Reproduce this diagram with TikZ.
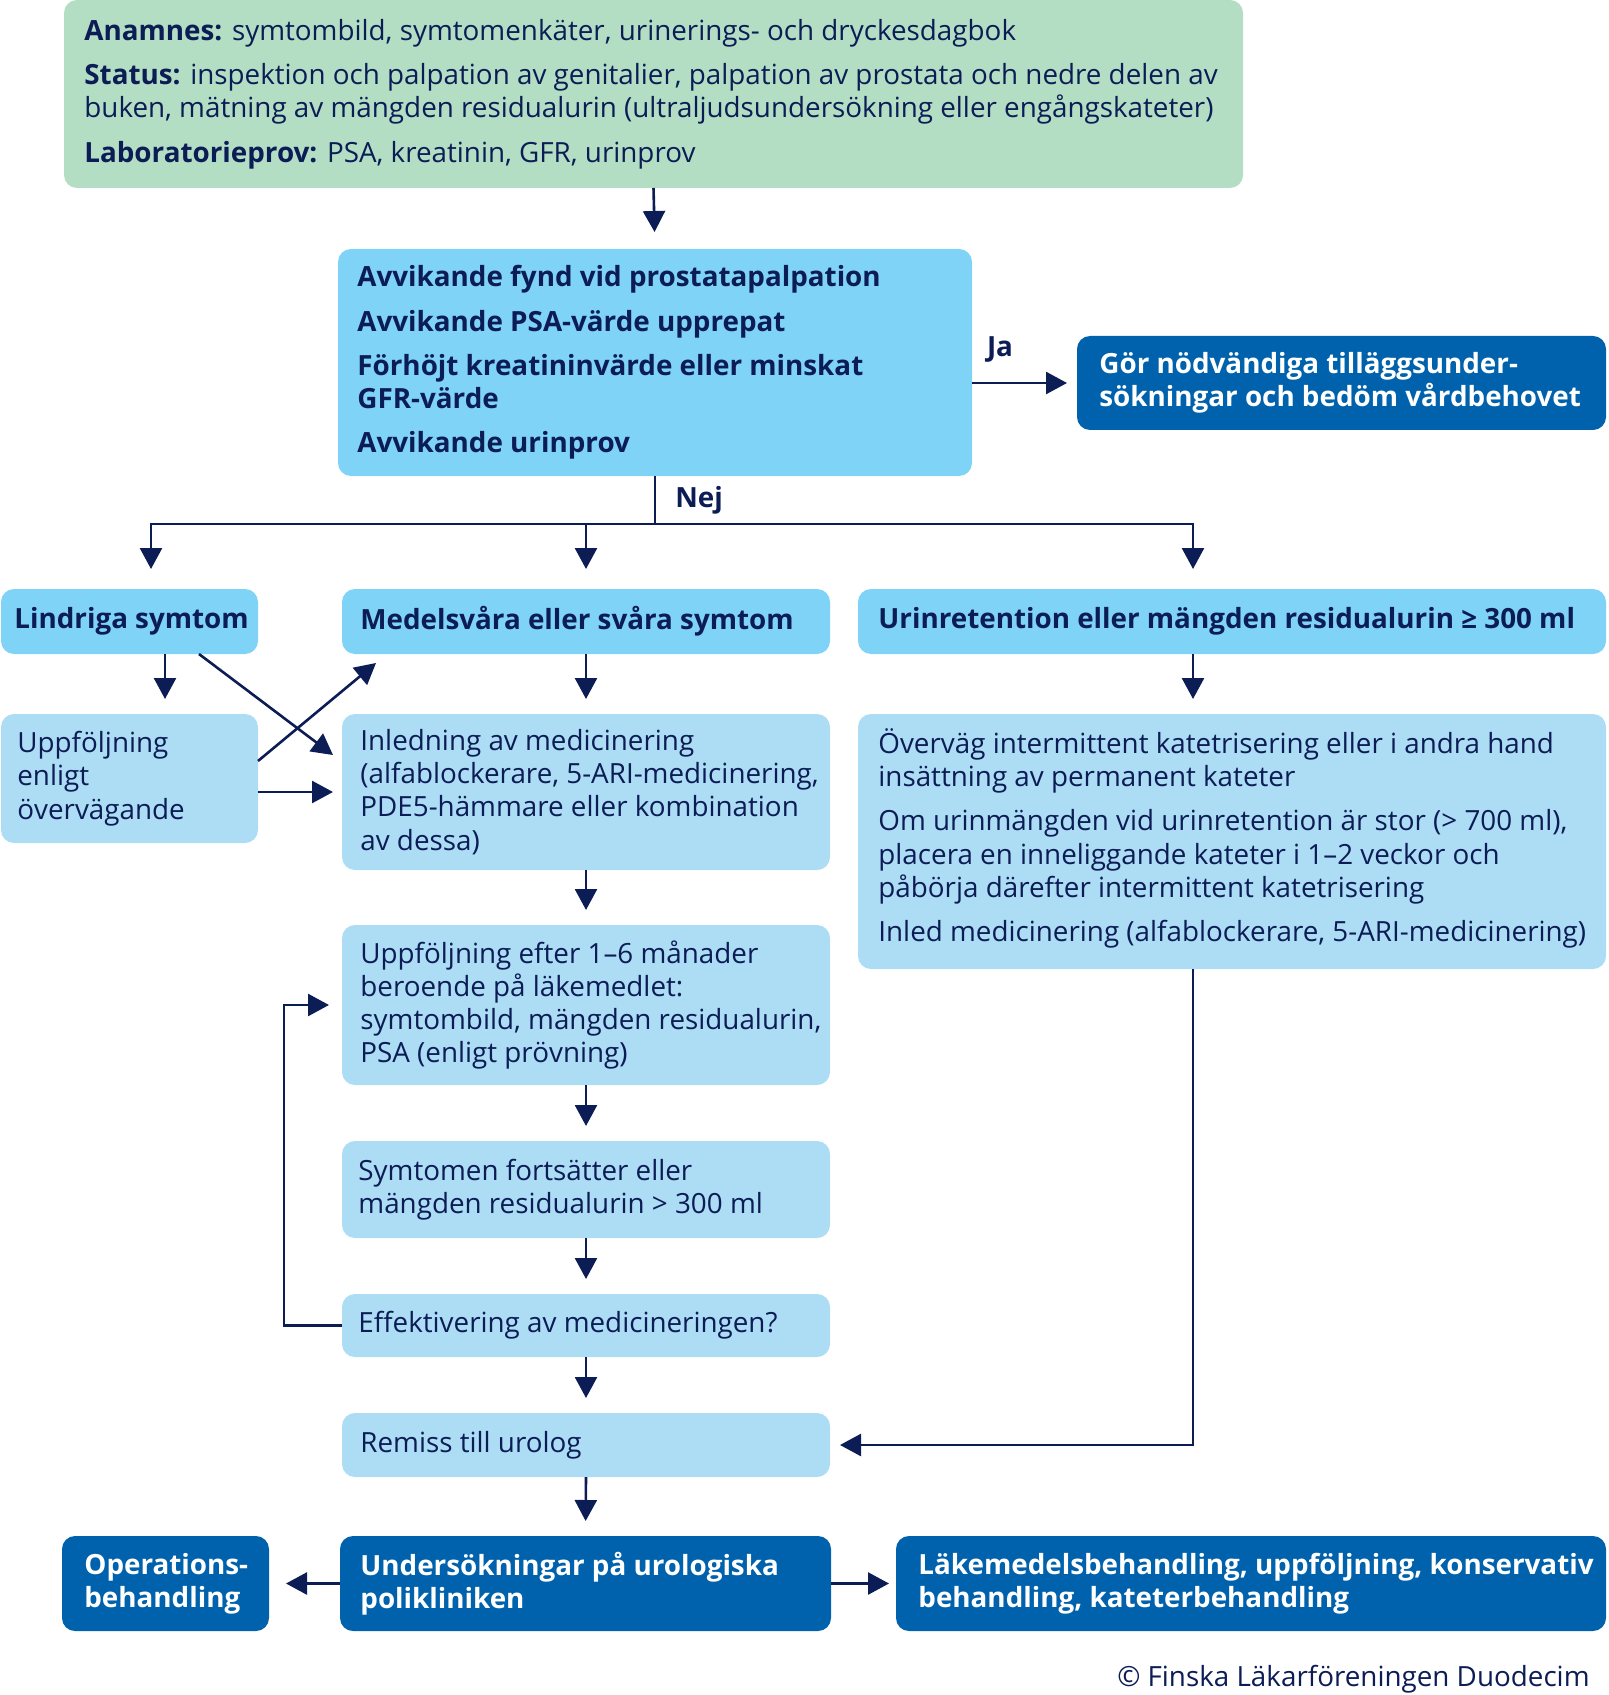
\documentclass[tikz,border=0pt]{standalone}
\usepackage{fontspec}
\setmainfont{Open Sans}
\usetikzlibrary{arrows.meta,calc}
\definecolor{navy}{HTML}{0C1C55}
\definecolor{gbox}{HTML}{B3DEC4}
\definecolor{mbox}{HTML}{7FD3F7}
\definecolor{lbox}{HTML}{ADDCF5}
\definecolor{dbox}{HTML}{0062AC}
\newcommand\fsz{\fontsize{13.9}{16.6}\selectfont}
\tikzset{
  box/.style={rounded corners=6.5pt, inner sep=0pt, outer sep=0pt, draw=none},
  gbx/.style={box, fill=gbox},
  mbx/.style={box, fill=mbox},
  lbx/.style={box, fill=lbox},
  dbx/.style={box, fill=dbox},
  txt/.style={anchor=west, align=left, inner sep=0pt, text=navy, font=\fsz},
  btxt/.style={txt, font=\fsz\bfseries},
  wtxt/.style={txt, text=white, font=\fsz\bfseries},
  arr/.style={draw=navy, line width=1.3pt, -{Triangle[length=10.5pt,width=11pt]}},
  ln/.style={draw=navy, line width=1.3pt},
}
\begin{document}
\begin{tikzpicture}[x=0.5pt,y=-0.5pt]
\useasboundingbox (0,0) rectangle (1609,1695);

% top green box
\node[gbx, minimum width=589.5pt, minimum height=94pt] (anam) at (653.5,94) {};
\node[txt] (anamT) at ([xshift=10pt]anam.west) {\textbf{Anamnes:} symtombild, symtomenkäter, urinerings- och dryckesdagbok\\[5.5pt]
\textbf{Status:} inspektion och palpation av genitalier, palpation av prostata och nedre delen av\\
buken, mätning av mängden residualurin (ultraljudsundersökning eller engångskateter)\\[5.5pt]
\textbf{Laboratorieprov:} PSA, kreatinin, GFR, urinprov};

% criteria box
\node[mbx, minimum width=317pt, minimum height=113.5pt] (crit) at (655,362.5) {};
\node[btxt] (critT) at ([xshift=9.5pt]crit.west) {Avvikande fynd vid prostatapalpation\\[5.5pt]
Avvikande PSA-värde upprepat\\[5.5pt]
Förhöjt kreatininvärde eller minskat\\
GFR-värde\\[5.5pt]
Avvikande urinprov};

% Ja box
\node[dbx, minimum width=264.5pt, minimum height=47pt] (gor) at (1341.5,383) {};
\node[wtxt] (gorT) at ([xshift=11pt]gor.west) {Gör nödvändiga tilläggsunder-\\sökningar och bedöm vårdbehovet};

% header row
\node[mbx, minimum width=128.5pt, minimum height=32.5pt] (lind) at (129.5,621.5) {};
\node[btxt] (lindT) at ([xshift=6.5pt]lind.west) {Lindriga symtom};
\node[mbx, minimum width=244pt, minimum height=32.5pt] (medel) at (586,621.5) {};
\node[btxt] (medelT) at ([xshift=9pt]medel.west) {Medelsvåra eller svåra symtom};
\node[mbx, minimum width=374pt, minimum height=32.5pt] (urin) at (1232,621.5) {};
\node[btxt] (urinT) at ([xshift=10pt]urin.west) {Urinretention eller mängden residualurin ≥ 300 ml};

% second row
\node[lbx, minimum width=128.5pt, minimum height=64.5pt] (uppf) at (129.5,778.5) {};
\node[txt] (uppfT) at ([xshift=8pt]uppf.west) {Uppföljning\\enligt\\övervägande};
\node[lbx, minimum width=244pt, minimum height=78pt] (inl) at (586,792) {};
\node[txt] (inlT) at ([xshift=9pt]inl.west) {Inledning av medicinering\\(alfablockerare, 5-ARI-medicinering,\\PDE5-hämmare eller kombination\\av dessa)};
\node[lbx, minimum width=374pt, minimum height=127.5pt] (urtx) at (1232,841.5) {};
\node[txt] (urtxT) at ([xshift=10pt,yshift=1.5pt]urtx.west) {Överväg intermittent katetrisering eller i andra hand\\insättning av permanent kateter\\[5.5pt]
Om urinmängden vid urinretention är stor (> 700 ml),\\placera en inneliggande kateter i 1–2 veckor och\\påbörja därefter intermittent katetrisering\\[5.5pt]
Inled medicinering (alfablockerare, 5-ARI-medicinering)};

% middle column
\node[lbx, minimum width=244pt, minimum height=80pt] (upp2) at (586,1005) {};
\node[txt] (upp2T) at ([xshift=9pt]upp2.west) {Uppföljning efter 1–6 månader\\beroende på läkemedlet:\\symtombild, mängden residualurin,\\PSA (enligt prövning)};
\node[lbx, minimum width=244pt, minimum height=48.5pt] (symt) at (586,1189.5) {};
\node[txt] (symtT) at ([xshift=8pt]symt.west) {Symtomen fortsätter eller\\mängden residualurin > 300 ml};
\node[lbx, minimum width=244pt, minimum height=31.5pt] (eff) at (586,1325.5) {};
\node[txt] (effT) at ([xshift=8pt]eff.west) {Effektivering av medicineringen?};
\node[lbx, minimum width=244pt, minimum height=32pt] (rem) at (586,1445) {};
\node[txt] (remT) at ([xshift=9pt]rem.west) {Remiss till urolog};

% bottom row
\node[dbx, minimum width=245.5pt, minimum height=47.5pt] (und) at (585.5,1583.5) {};
\node[wtxt] (undT) at ([xshift=10pt]und.west) {Undersökningar på urologiska\\polikliniken};
\node[dbx, minimum width=103.5pt, minimum height=47.5pt] (oper) at (165.5,1583.5) {};
\node[wtxt] (operT) at ([xshift=11pt]oper.west) {Operations-\\behandling};
\node[dbx, minimum width=355pt, minimum height=47.5pt] (lak) at (1251,1583.5) {};
\node[wtxt] (lakT) at ([xshift=11pt]lak.west) {Läkemedelsbehandling, uppföljning, konservativ\\behandling, kateterbehandling};

\node[txt, anchor=east] (copy) at (1590,1679) {© Finska Läkarföreningen Duodecim};

% connectors
\draw[arr, shorten >=8.5pt] (anam.south) -- (crit.north);
\draw[arr, shorten >=5pt] (crit.east |- gor.west) -- (gor.west);
\node[btxt, anchor=center] (ja) at (1000,349) {Ja};
\coordinate (nej) at (655,524);
\draw[ln] (crit.south) -- (nej);
\node[btxt, anchor=center] (nejT) at (699,500) {Nej};
\draw[arr, shorten >=10pt] (nej) -| ([xshift=10.75pt]lind.north);
\draw[arr, shorten >=10pt] (nej) -| ([xshift=-19.5pt]urin.north);
\draw[arr, shorten >=10pt] (nej -| medel.north) -- (medel.north);

\draw[arr, shorten >=7.5pt] ([xshift=17.75pt]lind.south) -- ([xshift=17.75pt]uppf.north);
\draw[arr, shorten >=7.5pt] (medel.south) -- (inl.north);
\draw[arr, shorten >=7.5pt] ([xshift=-19.5pt]urin.south) -- ([xshift=-19.5pt]urtx.north);

\coordinate (c1) at ([xshift=-4.5pt,yshift=-20.5pt]inl.north west);
\coordinate (c2) at ([xshift=17pt,yshift=-4.5pt]medel.south west);
\draw[arr] ([xshift=34.75pt]lind.south) -- (c1);
\draw[arr] ([yshift=8.75pt]uppf.east) -- (c2);
\draw[arr, shorten >=4.5pt] (uppf.east |- inl.west) -- (inl.west);

\draw[arr, shorten >=7.5pt] (inl.south) -- (upp2.north);
\draw[arr, shorten >=7.5pt] (upp2.south) -- (symt.north);
\draw[arr, shorten >=7.5pt] (symt.south) -- (eff.north);
\draw[arr, shorten >=7.5pt] (eff.south) -- (rem.north);
\draw[arr, shorten >=7.5pt] (rem.south) -- (und.north);
\draw[arr, shorten >=6.5pt] (eff.west) -- ++(-58,0) |- (upp2.west);
\draw[arr, shorten >=5pt] ([xshift=-19.5pt]urtx.south) |- (rem.east);
\draw[arr, shorten >=8.5pt] (und.west) -- (oper.east);
\draw[arr, shorten >=3.5pt] (und.east) -- (lak.west);
\end{tikzpicture}
\end{document}
